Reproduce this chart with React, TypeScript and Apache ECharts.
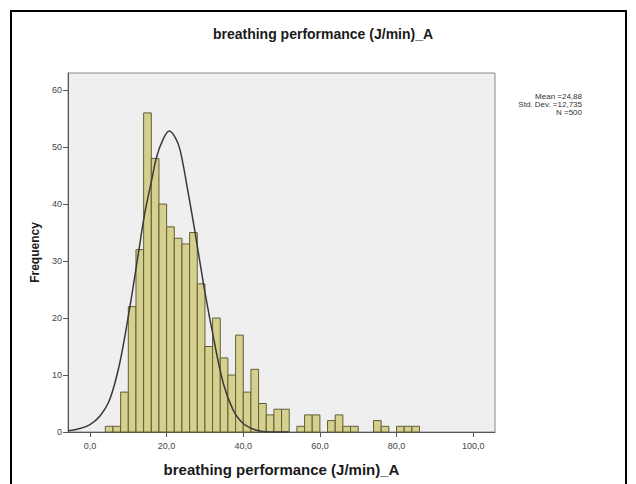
import React, { useEffect, useRef } from "react";
import * as echarts from "echarts";

// Histogram bins (left edge of each bin, width 2) and frequencies
const binStarts = [4, 6, 8, 10, 12, 14, 16, 18, 20, 22, 24, 26, 28, 30, 32, 34, 36, 38, 40, 42, 44, 46, 48, 50, 52, 54, 56, 58, 60, 62, 64, 66, 68, 70, 72, 74, 76, 78, 80, 82, 84];
const frequencies = [1, 1, 7, 22, 32, 56, 48, 40, 36, 34, 33, 35, 26, 15, 20, 13, 10, 17, 7, 11, 5, 3, 4, 4, 0, 1, 3, 3, 0, 2, 3, 1, 1, 0, 0, 2, 1, 0, 1, 1, 1];
const binWidth = 2;

// Normal curve as drawn in the picture (x, frequency)
const curveX = [-5.7, -2.6, 0, 2.6, 5.2, 7.8, 10.4, 12.6, 14.3, 16.1, 17.4, 19.1, 20.7, 22.3, 23.5, 25.2, 27.4, 29.6, 31.7, 34.8, 37.4, 40, 43.5, 47, 52];
const curveY = [0.2, 0.6, 1.3, 2.8, 5.8, 12.2, 21.9, 31.2, 38.4, 44.2, 48.3, 51.4, 52.8, 51.6, 49.5, 43.6, 35.1, 26.1, 18.4, 8.5, 3.8, 1.5, 0.3, 0.0, 0.0];

const xTicks = [0, 20, 40, 60, 80, 100];
const yTicks = [0, 10, 20, 30, 40, 50, 60];
const statsLines = ["Mean =24,88", "Std. Dev. =12,735", "N =500"];

const titleText = "breathing performance (J/min)_A";
const xName = "breathing performance (J/min)_A";
const yName = "Frequency";

const FONT = "'Liberation Sans', Arial, sans-serif";

export default function App() {
  const ref = useRef<HTMLDivElement>(null);
  useEffect(() => {
    if (!ref.current) return;
    const chart = echarts.init(ref.current, undefined, { renderer: "svg" });
    const barData = binStarts.map((s, i) => [s, s + binWidth, frequencies[i]]);
    const curveData = curveX.map((x, i) => [x, curveY[i]]);
    chart.setOption({
      animation: false,
      backgroundColor: "#ffffff",
      textStyle: { fontFamily: FONT },
      title: {
        text: titleText,
        left: 318,
        textAlign: "center",
        top: 22,
        textStyle: { fontSize: 14, fontWeight: "bold", color: "#1a1a1a", fontFamily: FONT },
      },
      graphic: [
        {
          type: "rect",
          shape: { x: 11, y: 11, width: 615, height: 490 },
          style: { fill: "none", stroke: "#000", lineWidth: 2 },
          silent: true,
        },
        ...statsLines.map((t, i) => ({
          type: "text",
          x: 582,
          y: 92 + i * 8,
          style: { text: t, textAlign: "right", fill: "#333", font: `8px ${FONT}` },
        })),
      ],
      grid: {
        left: 68,
        right: 141,
        top: 73,
        bottom: 52,
        show: true,
        backgroundColor: "#efefef",
        borderColor: "#8a8a8a",
        borderWidth: 1,
      },
      xAxis: {
        type: "value",
        min: -5.74,
        max: 105.7,
        name: xName,
        nameLocation: "middle",
        nameGap: 30,
        nameTextStyle: { fontSize: 15, fontWeight: "bold", color: "#1a1a1a", fontFamily: FONT },
        axisLine: { show: true, onZero: false, lineStyle: { color: "#555", width: 1 } },
        axisTick: { show: true, length: 5, customValues: xTicks, lineStyle: { color: "#555" } },
        axisLabel: {
          customValues: xTicks,
          margin: 9,
          fontSize: 9,
          color: "#444",
          formatter: (v: number) => v.toFixed(1).replace(".", ","),
        },
        splitLine: { show: false },
      },
      yAxis: {
        type: "value",
        min: 0,
        max: 63,
        name: yName,
        nameLocation: "middle",
        nameGap: 25,
        nameTextStyle: { fontSize: 12, fontWeight: "bold", color: "#1a1a1a", fontFamily: FONT },
        axisLine: { show: true, onZero: false, lineStyle: { color: "#555", width: 1 } },
        axisTick: { show: true, length: 5, customValues: yTicks, lineStyle: { color: "#555" } },
        axisLabel: { customValues: yTicks, margin: 6, fontSize: 9, color: "#444" },
        splitLine: { show: false },
      },
      series: [
        {
          type: "custom",
          data: barData,
          encode: { x: [0, 1], y: 2 },
          renderItem: (params: any, api: any) => {
            const x0 = api.value(0);
            const x1 = api.value(1);
            const h = api.value(2);
            if (!h) return null;
            const p0 = api.coord([x0, h]);
            const p1 = api.coord([x1, 0]);
            return {
              type: "rect",
              shape: { x: p0[0], y: p0[1], width: p1[0] - p0[0], height: p1[1] - p0[1] },
              style: { fill: "#d5d08d", stroke: "#5f5e36", lineWidth: 1 },
            };
          },
          z: 2,
        },
        {
          type: "line",
          data: curveData,
          smooth: 0.35,
          symbol: "none",
          clip: true,
          lineStyle: { color: "#3a3a3a", width: 1.5 },
          z: 3,
        },
      ],
    });
    return () => chart.dispose();
  }, []);
  return <div ref={ref} style={{ position: "fixed", left: 0, top: 0, width: 636, height: 484 }} />;
}
